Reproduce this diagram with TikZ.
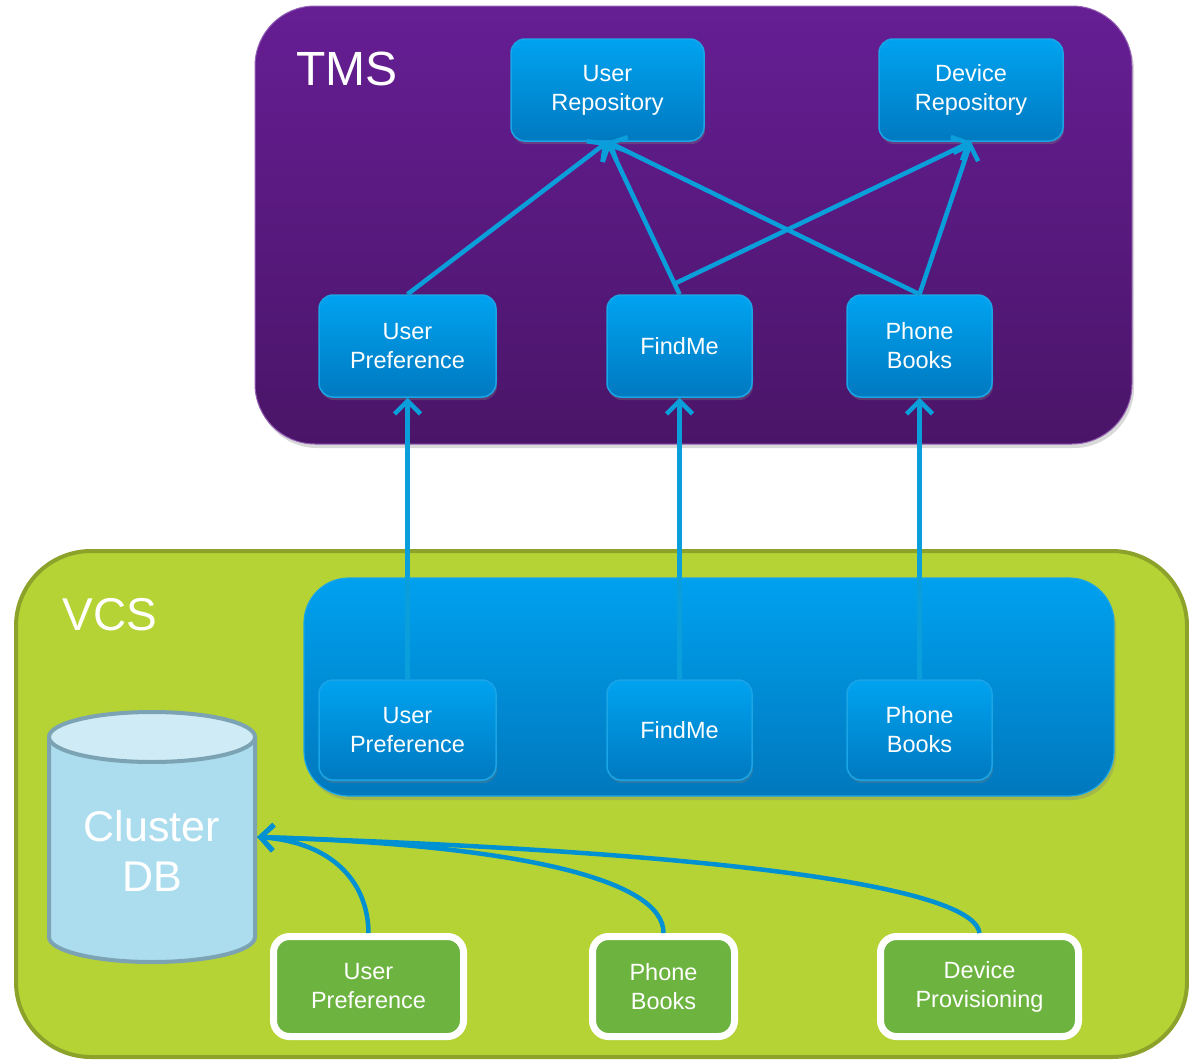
\documentclass[tikz,border=0pt]{standalone}
\usepackage{fontspec}
\setmainfont{Liberation Sans}
\usetikzlibrary{arrows.meta,shadows}
\definecolor{tmstop}{HTML}{661E94}
\definecolor{tmsbot}{HTML}{4A1568}
\definecolor{vcsfill}{HTML}{B5D334}
\definecolor{vcsedge}{HTML}{8CA22A}
\definecolor{paneltop}{HTML}{00A1EF}
\definecolor{panelbot}{HTML}{0078BD}
\definecolor{boxtop}{HTML}{00A3F0}
\definecolor{boxbot}{HTML}{0079C0}
\definecolor{boxedge}{HTML}{1AA5E6}
\definecolor{linkblue}{HTML}{0A9FDB}
\definecolor{curveblue}{HTML}{0091D2}
\definecolor{boxgreen}{HTML}{6CB33F}
\definecolor{dbbody}{HTML}{ABDDEE}
\definecolor{dbtop}{HTML}{CFEBF5}
\definecolor{dbedge}{HTML}{7CA3B4}
\tikzset{
  bluebox/.style={rectangle, rounded corners=14pt, top color=boxtop, bottom color=boxbot,
    draw=boxedge, line width=1.5pt, text=white, align=center, inner sep=0pt,
    font=\fontsize{23.5}{29}\selectfont,
    drop shadow={opacity=0.35, shadow xshift=1pt, shadow yshift=-3pt}},
  greenbox/.style={rectangle, rounded corners=16pt, fill=boxgreen, draw=white,
    line width=7pt, text=white, align=center, inner sep=0pt,
    font=\fontsize{23.5}{29}\selectfont,
    drop shadow={opacity=0.3, shadow xshift=2pt, shadow yshift=-3pt}},
  link/.style={draw=linkblue, line width=4.5pt,
    -{Straight Barb[length=13pt, width=26pt]}},
  curvelink/.style={draw=curveblue, line width=4.5pt,
    -{Straight Barb[length=13pt, width=26pt]}},
  biglabel/.style={text=white, inner sep=0pt}
}
\begin{document}
\begin{tikzpicture}[x=1pt, y=-1pt]
\useasboundingbox (0,0) rectangle (1189,1060);
% TMS panel
\shade[top color=tmstop, bottom color=tmsbot, rounded corners=60pt,
  drop shadow={opacity=0.3, shadow xshift=2pt, shadow yshift=-4pt}]
  (255,6) rectangle (1132,444);
\draw[draw=tmstop!70!white, line width=1pt, rounded corners=60pt] (255,6) rectangle (1132,444);
\node[biglabel, font=\fontsize{48}{52}\selectfont] (tmslabel) at (347,69) {TMS};
% VCS panel
\filldraw[fill=vcsfill, draw=vcsedge, line width=4pt, rounded corners=75pt]
  (16,551) rectangle (1187,1057);
\node[biglabel, font=\fontsize{46}{50}\selectfont] (vcslabel) at (110,615) {VCS};
% inner blue panel
\shade[top color=paneltop, bottom color=panelbot, rounded corners=45pt,
  drop shadow={opacity=0.3, shadow xshift=2pt, shadow yshift=-4pt}]
  (304,578) rectangle (1114,796);
\draw[draw=boxedge, line width=1.2pt, rounded corners=45pt] (304,578) rectangle (1114,796);
% TMS boxes
\node[bluebox, minimum width=193pt, minimum height=102pt] (ur) at (607.5,90) {User\\Repository};
\node[bluebox, minimum width=184pt, minimum height=102pt] (dr) at (971,90) {Device\\Repository};
\node[bluebox, minimum width=177pt, minimum height=102pt] (upt) at (407.5,346) {User\\Preference};
\node[bluebox, minimum width=145pt, minimum height=102pt] (fmt) at (679.5,346) {FindMe};
\node[bluebox, minimum width=145pt, minimum height=102pt] (pbt) at (919.5,346) {Phone\\Books};
% VCS blue boxes
\node[bluebox, minimum width=177pt, minimum height=100pt] (upv) at (407.5,730) {User\\Preference};
\node[bluebox, minimum width=145pt, minimum height=100pt] (fmv) at (679.5,730) {FindMe};
\node[bluebox, minimum width=145pt, minimum height=100pt] (pbv) at (919.5,730) {Phone\\Books};
% green boxes
\node[greenbox, minimum width=190pt, minimum height=100pt] (upg) at (368.5,986.5) {User\\Preference};
\node[greenbox, minimum width=142pt, minimum height=100pt] (pbg) at (663.5,986.5) {Phone\\Books};
\node[greenbox, minimum width=198pt, minimum height=100pt] (dpg) at (979.5,986.5) {Device\\Provisioning};
% Cluster DB cylinder
\fill[dbbody] (49,737) -- (49,937) arc[start angle=180, end angle=0, x radius=103, y radius=25] -- (255,737) -- cycle;
\draw[dbedge, line width=4pt] (49,737) -- (49,937) arc[start angle=180, end angle=0, x radius=103, y radius=25] -- (255,737);
\filldraw[fill=dbtop, draw=dbedge, line width=4pt] (152,737) ellipse[x radius=103, y radius=25];
\node[biglabel, align=center, font=\fontsize{43}{50}\selectfont] (dbtext) at (152,851) {Cluster\\DB};
\node[inner sep=0pt, minimum width=210pt, minimum height=250pt] (db) at (152,837) {};
% TMS links
\draw[link] (upt.north) -- (ur.south);
\draw[link] (fmt.north) -- (ur.south);
\draw[link] (pbt.north) -- (ur.south);
\draw[link] ([xshift=-4pt, yshift=11pt]fmt.north) -- (dr.south);
\draw[link] (pbt.north) -- (dr.south);
% vertical links
\draw[link] (upv.north) -- (upt.south);
\draw[link] (fmv.north) -- (fmt.south);
\draw[link] (pbv.north) -- (pbt.south);
% curves to DB
\draw[curvelink] (upg.north) .. controls (368,880) and (330,842) .. (db.east);
\draw[curvelink] (pbg.north) .. controls (664,880) and (520,845) .. (db.east);
\draw[curvelink] (dpg.north) .. controls (975,895) and (800,855) .. (db.east);
\end{tikzpicture}
\end{document}
